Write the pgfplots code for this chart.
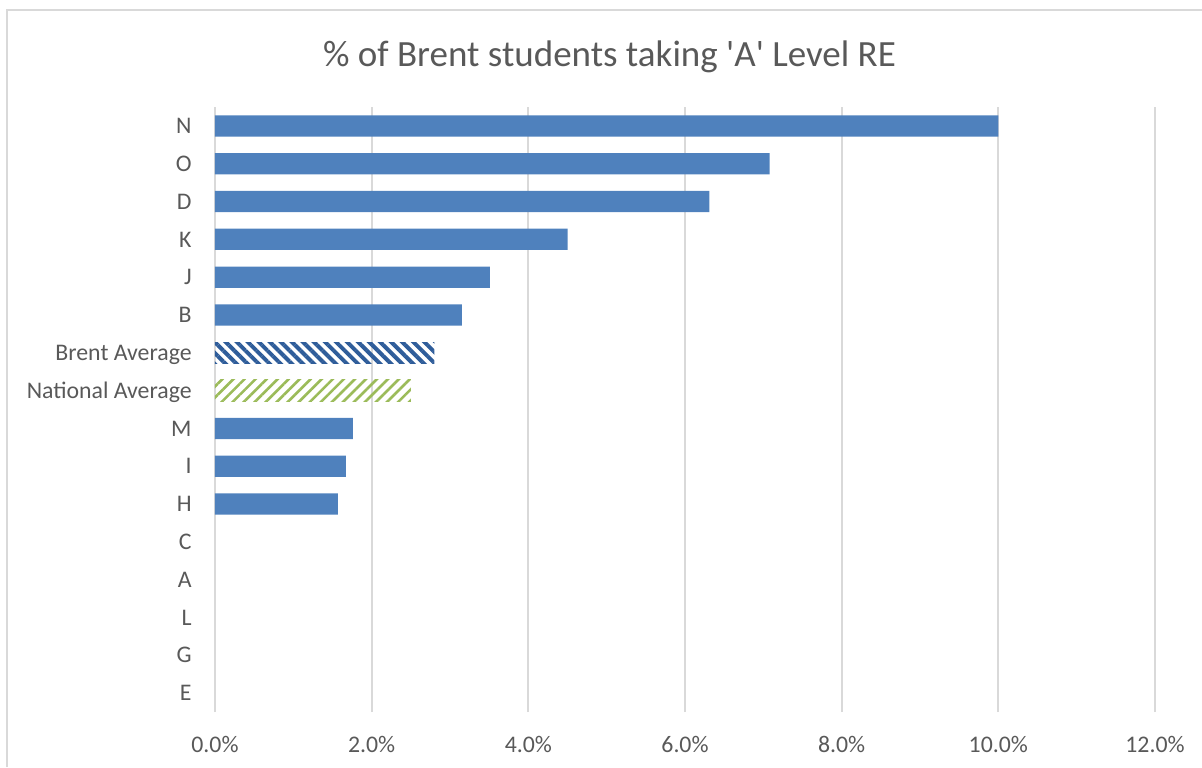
\documentclass[border=0pt]{standalone}
\usepackage{fontspec}
\setmainfont{Carlito}
\usepackage{pgfplots}
\pgfplotsset{compat=1.18}
\usetikzlibrary{patterns.meta}
\definecolor{barblue}{HTML}{4F81BD}
\definecolor{brentblue}{HTML}{2F5D9A}
\definecolor{natgreen}{HTML}{9BBB59}
\definecolor{txtgray}{HTML}{595959}
\definecolor{gridgray}{HTML}{D9D9D9}
\begin{document}
\begin{tikzpicture}
\useasboundingbox (-107.5pt,-27.5pt) rectangle (493.5pt,356pt);
\draw[gridgray, line width=1pt] (-104pt,-27.5pt) -- (-104pt,351pt) -- (493.5pt,351pt);
\begin{axis}[
  scale only axis,
  width=470pt, height=302.5pt,
  xbar, bar shift=0pt, bar width=10.6pt,
  xmin=0, xmax=12, ymin=-0.5, ymax=15.5,
  xtick={0,2,...,12},
  ytick={0,...,15},
  yticklabels={E,G,L,A,C,H,I,M,National Average,Brent Average,B,J,K,D,O,N},
  xticklabel={\pgfmathprintnumber[fixed,fixed zerofill,precision=1]{\tick}\%},
  /pgf/number format/assume math mode=true,
  axis line style={draw=none},
  major tick length=0pt,
  xmajorgrids, ymajorgrids=false,
  major x grid style={gridgray, line width=0.9pt},
  tick label style={font=\fontsize{11.9}{14}\selectfont, text=txtgray},
  xticklabel style={anchor=base, inner sep=0pt, yshift=-20.3pt},
  yticklabel style={anchor=base east, inner sep=0pt, xshift=-11.5pt, yshift=-3.85pt},
  clip=false,
]
% C, A, L, G, E are 0 and draw no bar
\addplot[draw=none, fill=barblue] coordinates {
 (1.57,5) (1.67,6) (1.76,7)
 (3.15,10) (3.51,11) (4.50,12) (6.31,13) (7.08,14) (10.0,15)};
\addplot[draw=none, pattern={Lines[angle=-45,distance=3.9pt,line width=2pt]}, pattern color=brentblue] coordinates {(2.80,9)};
\addplot[draw=none, pattern={Lines[angle=45,distance=3.9pt,line width=1.3pt]}, pattern color=natgreen] coordinates {(2.50,8)};
\end{axis}
\node[anchor=base, text=txtgray, font=\fontsize{18.5}{22}\selectfont] at (197.25pt,322.5pt) {\% of Brent students taking \textquotesingle A\textquotesingle\ Level RE};
\end{tikzpicture}
\end{document}
